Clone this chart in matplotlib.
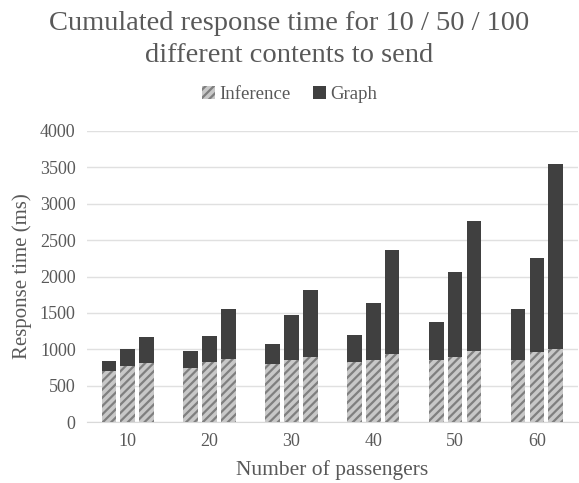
import numpy as np
import matplotlib
matplotlib.use('Agg')
import matplotlib.pyplot as plt

plt.rcParams['font.family'] = ['Liberation Serif', 'DejaVu Serif']
plt.rcParams['hatch.linewidth'] = 1.6

# datos
passengers = ['10', '20', '30', '40', '50', '60']
inference_10 = [700, 750, 800, 830, 860, 860]
inference_50 = [770, 820, 850, 860, 900, 970]
inference_100 = [810, 870, 890, 940, 980, 1010]
graph_10 = [140, 230, 270, 360, 510, 700]
graph_50 = [240, 360, 620, 780, 1160, 1290]
graph_100 = [360, 690, 920, 1430, 1780, 2540]

gris = '#595959'
fig = plt.figure(figsize=(5.79, 4.83), dpi=100)
ax = fig.add_axes([0.150, 0.126, 0.848, 0.603])

x = np.arange(len(passengers))
ancho = 0.18
paso = 0.23
plt.rcParams['hatch.color'] = '#7f7f7f'
for i, (inf, gr) in enumerate([(inference_10, graph_10), (inference_50, graph_50), (inference_100, graph_100)]):
    pos = x + (i - 1) * paso
    ax.bar(pos, inf, ancho, color='#c8c8c8', hatch='////', edgecolor='#7f7f7f', linewidth=0,
           label='Inference' if i == 0 else None, zorder=3)
    ax.bar(pos, gr, ancho, bottom=inf, color='#404040', linewidth=0,
           label='Graph' if i == 0 else None, zorder=3)

ax.set_xlim(-0.5, 5.5)
ax.set_ylim(0, 4000)
ax.set_yticks(range(0, 4001, 500))
ax.set_xticks(x)
ax.set_xticklabels(passengers)
ax.grid(axis='y', color='#e0e0e0', linewidth=1, zorder=0)
for s in ['top', 'right', 'left']:
    ax.spines[s].set_visible(False)
ax.spines['bottom'].set_color('#d9d9d9')
ax.tick_params(length=0, labelsize=13, colors=gris, pad=8)

ax.set_ylabel('Response time (ms)', fontsize=15, color=gris, labelpad=6)
ax.set_xlabel('Number of passengers', fontsize=15.5, color=gris, labelpad=7)
fig.suptitle('Cumulated response time for 10 / 50 / 100\ndifferent contents to send',
             fontsize=20.5, color=gris, y=0.978, linespacing=1.38)
fig.legend(loc='center', bbox_to_anchor=(0.5, 0.805), ncol=2, frameon=False,
           fontsize=13.5, labelcolor=gris, handlelength=0.7, handleheight=0.7,
           handletextpad=0.2, columnspacing=1.2)

fig.savefig('out.png', dpi=100)
